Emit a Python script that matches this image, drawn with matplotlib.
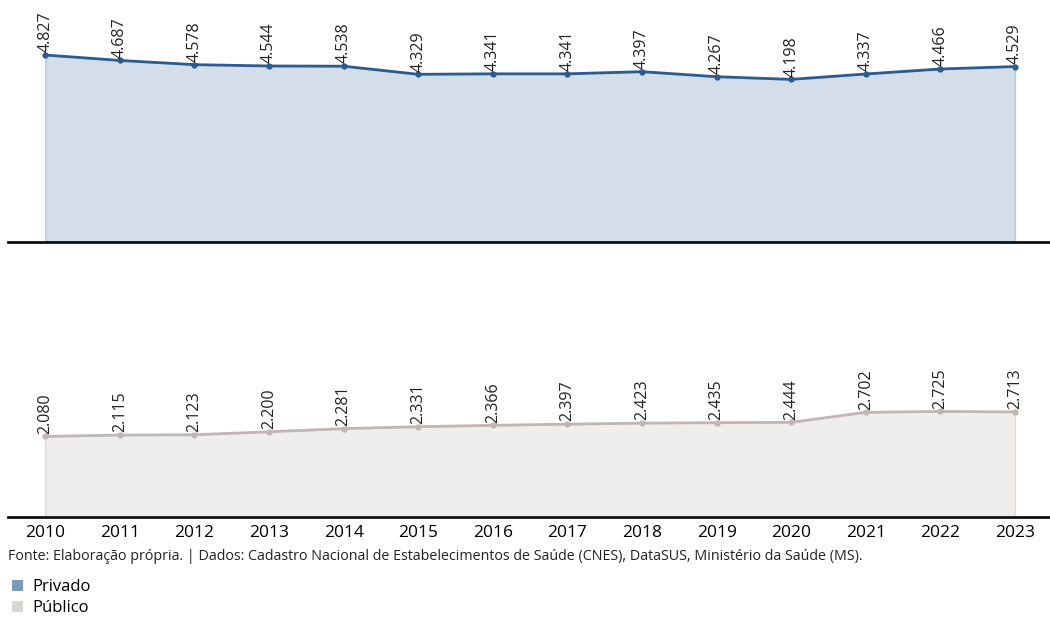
import matplotlib
matplotlib.use("Agg")
import matplotlib.pyplot as plt
from matplotlib.patches import Patch

plt.rcParams["font.family"] = ["Open Sans", "DejaVu Sans"]

years = list(range(2010, 2024))
privado = [4827, 4687, 4578, 4544, 4538, 4329, 4341, 4341, 4397, 4267, 4198, 4337, 4466, 4529]
publico = [2080, 2115, 2123, 2200, 2281, 2331, 2366, 2397, 2423, 2435, 2444, 2702, 2725, 2713]

series = [
    ("Privado", privado, "#2c5c8f", "#d3dee8", "#b7c8d8", "#7b9bbb"),
    ("Público", publico, "#c0b6b6", "#efeeed", "#dedbda", "#d9d5d3"),
]


def fmt(v):
    return f"{v:,}".replace(",", ".")


fig = plt.figure(figsize=(10.5, 6.19), dpi=100)
W, H = 1050, 619
panels = [(0, 242), (275, 517)]  # top/bottom pixel rows

for (name, vals, line_c, fill_c, edge_c, leg_c), (top, bottom) in zip(series, panels):
    ax = fig.add_axes([8 / W, 1 - bottom / H, 1 - 8 / W, (bottom - top) / H])
    ax.fill_between(years, vals, 0, color=fill_c, edgecolor=edge_c, linewidth=1)
    ax.plot(years, vals, color=line_c, lw=2, marker="o", ms=3.5, zorder=3)
    for x, v in zip(years, vals):
        ax.annotate(fmt(v), (x, v), xytext=(0, 2), textcoords="offset points",
                    rotation=90, ha="center", va="bottom", fontsize=11.5, color="#222222")
    ax.set_xlim(2009.5, 2023.47)
    ax.set_ylim(0, 6247)
    ax.set_yticks([])
    for s in ["top", "left", "right"]:
        ax.spines[s].set_visible(False)
    ax.spines["bottom"].set_linewidth(2)
    ax.spines["bottom"].set_color("#111111")
    ax.tick_params(axis="x", length=0, labelsize=12.5, pad=6)
    ax.set_xticks(years)
    if bottom == 242:
        ax.set_xticklabels([])
    ax.set_facecolor("none")

fig.text(8 / W, 1 - 557 / H,
         "Fonte: Elaboração própria. | Dados: Cadastro Nacional de Estabelecimentos de Saúde (CNES), "
         "DataSUS, Ministério da Saúde (MS).",
         fontsize=10.3, va="center", ha="left", color="#222222")

handles = [Patch(facecolor=s[5], edgecolor="none", label=s[0]) for s in series]
fig.legend(handles=handles, loc="upper left", bbox_to_anchor=(12 / W, 1 - 579 / H),
           frameon=False, fontsize=12, handlelength=0.65, handleheight=0.65,
           handletextpad=0.55, labelspacing=0.3, borderaxespad=0, borderpad=0)

fig.savefig("out.png", dpi=100)
